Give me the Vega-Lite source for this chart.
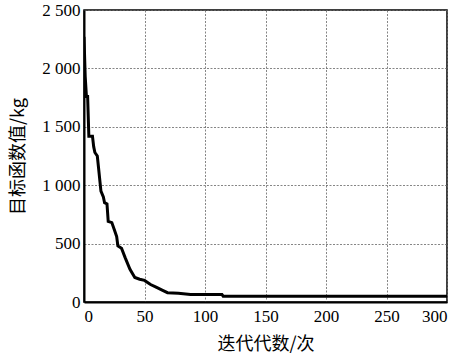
{
  "$schema": "https://vega.github.io/schema/vega-lite/v6.json",
  "autosize": "none",
  "width": 363,
  "height": 292,
  "padding": {"left": 84, "top": 10, "right": 11, "bottom": 54},
  "background": "white",
  "config": {
    "view": {"stroke": "black", "strokeWidth": 1.5},
    "font": "Liberation Serif",
    "axis": {
      "labelFont": "Liberation Serif",
      "labelFontSize": 17,
      "labelColor": "black",
      "titleFont": "Noto Sans CJK SC",
      "titleFontSize": 18,
      "titleFontWeight": "normal",
      "titleColor": "black",
      "domainColor": "black",
      "domainWidth": 2,
      "ticks": false,
      "gridColor": "#666666",
      "gridDash": [2, 1.5],
      "gridWidth": 0.8,
      "gridOpacity": 1
    }
  },
  "data": {
    "values": [
      {"iter": 0, "value": 2270},
      {"iter": 1, "value": 1930},
      {"iter": 2, "value": 1760},
      {"iter": 3, "value": 1760},
      {"iter": 4, "value": 1420},
      {"iter": 7, "value": 1420},
      {"iter": 8, "value": 1330},
      {"iter": 9, "value": 1280},
      {"iter": 11, "value": 1250},
      {"iter": 12, "value": 1150},
      {"iter": 14, "value": 950},
      {"iter": 16, "value": 900},
      {"iter": 17, "value": 850},
      {"iter": 19, "value": 840},
      {"iter": 20, "value": 690},
      {"iter": 23, "value": 680},
      {"iter": 25, "value": 620},
      {"iter": 27, "value": 560},
      {"iter": 28, "value": 480},
      {"iter": 31, "value": 460},
      {"iter": 34, "value": 380},
      {"iter": 38, "value": 280},
      {"iter": 42, "value": 210},
      {"iter": 46, "value": 195},
      {"iter": 50, "value": 185},
      {"iter": 55, "value": 150},
      {"iter": 60, "value": 125},
      {"iter": 65, "value": 100},
      {"iter": 69, "value": 80},
      {"iter": 78, "value": 75},
      {"iter": 88, "value": 65},
      {"iter": 114, "value": 65},
      {"iter": 115, "value": 50},
      {"iter": 300, "value": 50}
    ]
  },
  "mark": {"type": "line", "color": "black", "strokeWidth": 3, "clip": true},
  "encoding": {
    "x": {
      "field": "iter",
      "type": "quantitative",
      "scale": {"domain": [0, 300], "nice": false},
      "axis": {"values": [0, 50, 100, 150, 200, 250, 300], "title": "迭代代数/次", "labelPadding": 6, "titlePadding": 11}
    },
    "y": {
      "field": "value",
      "type": "quantitative",
      "scale": {"domain": [0, 2500], "nice": false},
      "axis": {
        "values": [0, 500, 1000, 1500, 2000, 2500],
        "title": "目标函数值/kg",
        "labelExpr": "replace(format(datum.value, ','), ',', ' ')",
        "labelPadding": 4,
        "titlePadding": 14
      }
    }
  }
}
